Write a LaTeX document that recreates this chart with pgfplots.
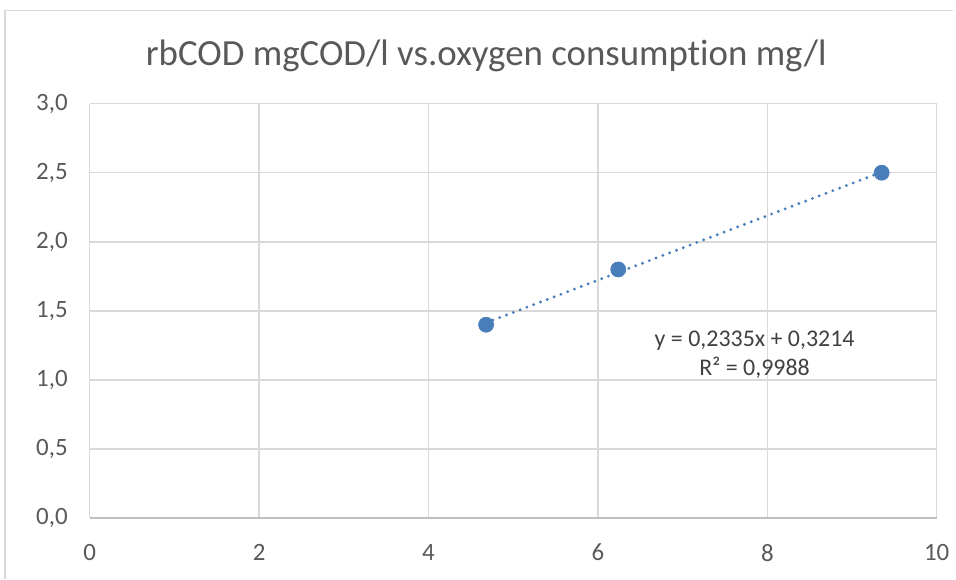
\documentclass[border=0pt]{standalone}
\usepackage{pgfplots}
\pgfplotsset{compat=1.18}
\usepackage{fontspec}
\setmainfont{Carlito}[Ligatures=NoCommon]

\definecolor{gridgray}{HTML}{D9D9D9}
\definecolor{axisgray}{HTML}{BFBFBF}
\definecolor{labelgray}{HTML}{595959}
\definecolor{eqgray}{HTML}{404040}
\definecolor{seriesblue}{HTML}{4A7EBB}

\begin{document}
\begin{tikzpicture}
  % canvas and chart frame
  \path (0,0) rectangle (478pt,290.5pt);
  \draw[gridgray, line width=0.8pt] (2.5pt,0) -- (2.5pt,285.25pt) -- (478pt,285.25pt);

  % title
  \node[anchor=base, text=labelgray, font=\fontsize{18.5}{22}\selectfont, inner sep=0]
    at (244pt,257.5pt) {rbCOD mgCOD/l vs.oxygen consumption mg/l};

  \begin{axis}[
    at={(45pt,30.5pt)}, anchor=south west,
    scale only axis, width=425pt, height=208pt,
    xmin=0, xmax=10, ymin=0, ymax=3,
    xtick={0,2,...,10}, ytick={0,0.5,...,3},
    grid=major,
    major grid style={gridgray, line width=0.75pt},
    axis line style={draw=none},
    major tick length=0pt,
    /pgf/number format/assume math mode=true,
    tick label style={font=\fontsize{12.5}{15}\selectfont, text=labelgray},
    yticklabel style={/pgf/number format/.cd, fixed, fixed zerofill, precision=1, use comma, /tikz/.cd, xshift=-7.5pt},
    xticklabel style={/pgf/number format/.cd, fixed, precision=0, /tikz/.cd, yshift=-9.5pt},
    clip=false,
  ]
    % bottom axis line
    \draw[axisgray, line width=0.8pt] (rel axis cs:0,0) -- (rel axis cs:1,0);

    % linear trend line y = 0,2335x + 0,3214, evaluated at the first and last x
    \addplot[seriesblue, line width=1.6pt, line cap=round,
             dash pattern=on 0pt off 3.65pt]
      coordinates {(4.68,1.4142) (9.35,2.5046)};

    % measured points
    \addplot[only marks, mark=*, mark size=3.75pt,
             mark options={fill=seriesblue, draw=seriesblue}]
      coordinates {(4.68,1.4) (6.24,1.8) (9.35,2.5)};

    \node[align=center, text=eqgray, font=\fontsize{12}{14.5}\selectfont]
      at (axis cs:7.85,1.18) {y = 0,2335x + 0,3214\\R² = 0,9988};
  \end{axis}
\end{tikzpicture}
\end{document}
